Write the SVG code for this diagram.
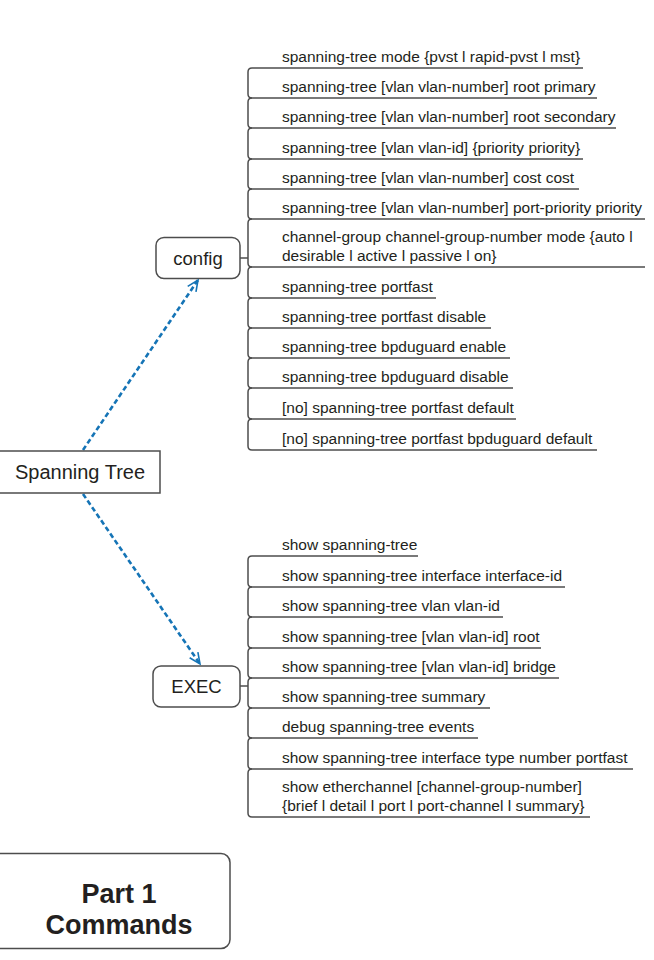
<svg xmlns="http://www.w3.org/2000/svg" width="654" height="960" viewBox="0 0 654 960">
  <style>
    .bg { fill: #ffffff; }
    .box { fill: #ffffff; stroke: #4d4d4d; stroke-width: 1.5; }
    .node-label { font-family: "Liberation Sans", Arial, sans-serif; font-size: 18.5px; fill: #231f20; text-anchor: middle; }
    .root-label { font-family: "Liberation Sans", Arial, sans-serif; font-size: 20px; fill: #231f20; text-anchor: middle; }
    .part-label { font-family: "Liberation Sans", Arial, sans-serif; font-size: 27px; font-weight: bold; fill: #231f20; text-anchor: middle; }
    .cmd { font-family: "Liberation Sans", Arial, sans-serif; font-size: 15.5px; fill: #231f20; }
    .rule { fill: none; stroke: #4d4d4d; stroke-width: 1.5; }
    .link { fill: none; stroke: #1574b6; stroke-width: 2.6; stroke-dasharray: 5 3; }
  </style>
  <defs>
    <marker id="open-arrow" markerUnits="userSpaceOnUse" markerWidth="16" markerHeight="16" refX="12" refY="6" orient="auto">
      <path d="M1,1 L12,6 L1,11" fill="none" stroke="#1574b6" stroke-width="1.6"/>
    </marker>
  </defs>

  <rect class="bg" x="0" y="0" width="654" height="960"/>

  <!-- dashed links from the root topic to its two branches -->
  <g id="connectors">
    <line class="link" x1="83" y1="450" x2="198" y2="280" marker-end="url(#open-arrow)"/>
    <line class="link" x1="83" y1="494" x2="200" y2="664" marker-end="url(#open-arrow)"/>
    <path class="rule" d="M240,258 H248"/>
    <path class="rule" d="M240,686 H248"/>
  </g>

  <g id="spanning-tree">
    <rect class="box" x="-2" y="451" width="162" height="42"/>
    <text class="root-label" x="80" y="479">Spanning Tree</text>
  </g>

  <g id="config">
    <rect class="box" x="156" y="237.5" width="84" height="41" rx="8"/>
    <text class="node-label" x="198" y="265">config</text>
  </g>

  <g id="exec">
    <rect class="box" x="153" y="666" width="87" height="41" rx="8"/>
    <text class="node-label" x="196.5" y="693">EXEC</text>
  </g>

  <!-- configuration commands -->
  <g id="config-commands">
    <g id="cfg-1">
      <path class="rule" d="M252,68 H583"/>
      <text class="cmd" x="282" y="62">spanning-tree mode {pvst l rapid-pvst l mst}</text>
    </g>
    <g id="cfg-2">
      <path class="rule" d="M252,68 Q248,68 248,72 V94 Q248,98 252,98 H597"/>
      <text class="cmd" x="282" y="92">spanning-tree [vlan vlan-number] root primary</text>
    </g>
    <g id="cfg-3">
      <path class="rule" d="M252,98 Q248,98 248,102 V124 Q248,128 252,128 H616"/>
      <text class="cmd" x="282" y="122">spanning-tree [vlan vlan-number] root secondary</text>
    </g>
    <g id="cfg-4">
      <path class="rule" d="M252,128 Q248,128 248,132 V155 Q248,159 252,159 H583"/>
      <text class="cmd" x="282" y="153">spanning-tree [vlan vlan-id] {priority priority}</text>
    </g>
    <g id="cfg-5">
      <path class="rule" d="M252,159 Q248,159 248,163 V185 Q248,189 252,189 H579"/>
      <text class="cmd" x="282" y="183">spanning-tree [vlan vlan-number] cost cost</text>
    </g>
    <g id="cfg-6">
      <path class="rule" d="M252,189 Q248,189 248,193 V215 Q248,219 252,219 H645"/>
      <text class="cmd" x="282" y="213">spanning-tree [vlan vlan-number] port-priority priority</text>
    </g>
    <g id="cfg-7">
      <path class="rule" d="M252,219 Q248,219 248,223 V263 Q248,267 252,267 H645"/>
      <text class="cmd" x="282" y="242">channel-group channel-group-number mode {auto l</text>
      <text class="cmd" x="282" y="261">desirable l active l passive l on}</text>
    </g>
    <g id="cfg-8">
      <path class="rule" d="M252,267 Q248,267 248,271 V294 Q248,298 252,298 H436"/>
      <text class="cmd" x="282" y="292">spanning-tree portfast</text>
    </g>
    <g id="cfg-9">
      <path class="rule" d="M252,298 Q248,298 248,302 V324 Q248,328 252,328 H491"/>
      <text class="cmd" x="282" y="322">spanning-tree portfast disable</text>
    </g>
    <g id="cfg-10">
      <path class="rule" d="M252,328 Q248,328 248,332 V354 Q248,358 252,358 H510"/>
      <text class="cmd" x="282" y="352">spanning-tree bpduguard enable</text>
    </g>
    <g id="cfg-11">
      <path class="rule" d="M252,358 Q248,358 248,362 V384 Q248,388 252,388 H513"/>
      <text class="cmd" x="282" y="382">spanning-tree bpduguard disable</text>
    </g>
    <g id="cfg-12">
      <path class="rule" d="M252,388 Q248,388 248,392 V415 Q248,419 252,419 H516"/>
      <text class="cmd" x="282" y="413">[no] spanning-tree portfast default</text>
    </g>
    <g id="cfg-13">
      <path class="rule" d="M252,419 Q248,419 248,423 V446 Q248,450 252,450 H597"/>
      <text class="cmd" x="282" y="444">[no] spanning-tree portfast bpduguard default</text>
    </g>
  </g>

  <!-- EXEC commands -->
  <g id="exec-commands">
    <g id="exec-1">
      <path class="rule" d="M252,556 H418"/>
      <text class="cmd" x="282" y="550">show spanning-tree</text>
    </g>
    <g id="exec-2">
      <path class="rule" d="M252,556 Q248,556 248,560 V583 Q248,587 252,587 H565"/>
      <text class="cmd" x="282" y="581">show spanning-tree interface interface-id</text>
    </g>
    <g id="exec-3">
      <path class="rule" d="M252,587 Q248,587 248,591 V613 Q248,617 252,617 H503"/>
      <text class="cmd" x="282" y="611">show spanning-tree vlan vlan-id</text>
    </g>
    <g id="exec-4">
      <path class="rule" d="M252,617 Q248,617 248,621 V644 Q248,648 252,648 H541"/>
      <text class="cmd" x="282" y="642">show spanning-tree [vlan vlan-id] root</text>
    </g>
    <g id="exec-5">
      <path class="rule" d="M252,648 Q248,648 248,652 V674 Q248,678 252,678 H559"/>
      <text class="cmd" x="282" y="672">show spanning-tree [vlan vlan-id] bridge</text>
    </g>
    <g id="exec-6">
      <path class="rule" d="M252,678 Q248,678 248,682 V704 Q248,708 252,708 H490"/>
      <text class="cmd" x="282" y="702">show spanning-tree summary</text>
    </g>
    <g id="exec-7">
      <path class="rule" d="M252,708 Q248,708 248,712 V734 Q248,738 252,738 H478"/>
      <text class="cmd" x="282" y="732">debug spanning-tree events</text>
    </g>
    <g id="exec-8">
      <path class="rule" d="M252,738 Q248,738 248,742 V765 Q248,769 252,769 H633"/>
      <text class="cmd" x="282" y="763">show spanning-tree interface type number portfast</text>
    </g>
    <g id="exec-9">
      <path class="rule" d="M252,769 Q248,769 248,773 V813 Q248,817 252,817 H590"/>
      <text class="cmd" x="282" y="792">show etherchannel [channel-group-number]</text>
      <text class="cmd" x="282" y="811">{brief l detail l port l port-channel l summary}</text>
    </g>
  </g>

  <g id="part-label">
    <rect class="box" x="-12" y="853.5" width="242" height="95" rx="9"/>
    <text class="part-label" x="119" y="903">Part 1</text>
    <text class="part-label" x="119" y="934">Commands</text>
  </g>
</svg>
